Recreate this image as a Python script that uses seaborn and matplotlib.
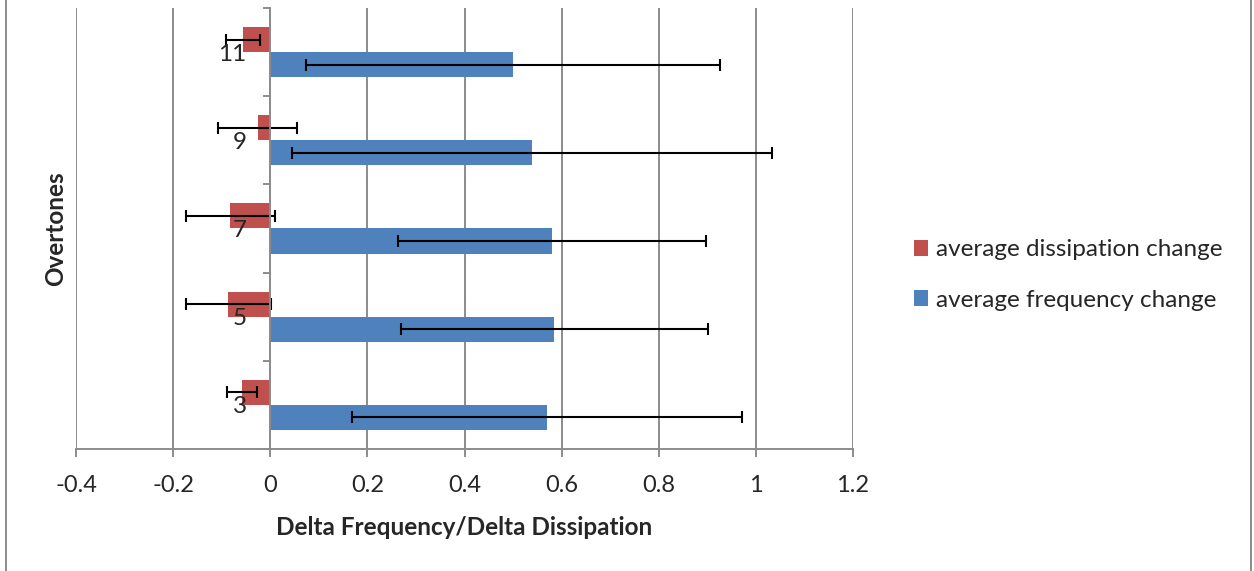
import matplotlib
matplotlib.use("Agg")
import matplotlib.pyplot as plt
from matplotlib.lines import Line2D
from matplotlib.ticker import FixedLocator
import seaborn as sns
import pandas as pd
import numpy as np

# ---- data ----
overtones = ["11", "9", "7", "5", "3"]
freq_change = [0.500, 0.539, 0.580, 0.585, 0.570]
freq_err = [0.427, 0.495, 0.317, 0.316, 0.402]
diss_change = [-0.057, -0.026, -0.082, -0.086, -0.058]
diss_err = [0.035, 0.081, 0.092, 0.088, 0.031]
series_names = ["average dissipation change", "average frequency change"]
x_ticks = [-0.4, -0.2, 0, 0.2, 0.4, 0.6, 0.8, 1, 1.2]
x_tick_labels = ["-0.4", "-0.2", "0", "0.2", "0.4", "0.6", "0.8", "1", "1.2"]

RED = "#C0504D"
BLUE = "#4F81BD"
GRID = "#8C8C8C"

df = pd.DataFrame({
    "overtone": overtones * 2,
    "value": diss_change + freq_change,
    "series": [series_names[0]] * len(overtones) + [series_names[1]] * len(overtones),
})
errs = {series_names[0]: diss_err, series_names[1]: freq_err}

sns.set_theme(style="white")
plt.rcParams["font.family"] = ["Lato", "DejaVu Sans"]

fig = plt.figure(figsize=(12.54, 5.71), dpi=100)
ax = fig.add_axes([76 / 1254, 1 - 449 / 571, (853 - 76) / 1254, (449 - 8) / 571])

sns.barplot(data=df, y="overtone", x="value", hue="series", order=overtones,
            hue_order=series_names, palette=[RED, BLUE], orient="h",
            width=0.568, gap=0, linewidth=0, saturation=1, errorbar=None, ax=ax,
            zorder=3)

# error bars positioned from the drawn bars
for container, name in zip(ax.containers, series_names):
    ys, xs = [], []
    for bar in container:
        ys.append(bar.get_y() + bar.get_height() / 2)
        xs.append(bar.get_x() + bar.get_width())
    ax.errorbar(xs, ys, xerr=errs[name], fmt="none", ecolor="black",
                elinewidth=1.5, capsize=4.5, capthick=1.5, zorder=4)

ax.set_xlim(-0.4, 1.2)
ax.set_ylim(len(overtones) - 0.5, -0.5)
ax.set_xticks(x_ticks)
ax.set_xticklabels(x_tick_labels)

# grid
ax.grid(False)
for xv in x_ticks:
    ax.axvline(xv, color=GRID, lw=1.4, zorder=1)

# spines
for s in ["top", "right"]:
    ax.spines[s].set_visible(False)
ax.spines["left"].set_position(("data", 0))
ax.spines["left"].set_color(GRID)
ax.spines["left"].set_linewidth(1.4)
ax.spines["left"].set_zorder(5)
ax.spines["bottom"].set_color(GRID)
ax.spines["bottom"].set_linewidth(1.4)

ax.tick_params(axis="x", which="major", direction="out", length=6, width=1.4,
               color=GRID, labelsize=17, pad=13, bottom=True)
ax.tick_params(axis="y", which="major", length=0, labelsize=17.5, pad=17, left=True)
ax.yaxis.set_minor_locator(FixedLocator(np.arange(-0.5, len(overtones), 1.0)))
ax.tick_params(axis="y", which="minor", direction="out", length=5, width=1.4,
               color=GRID, left=True)
ax.yaxis.set_zorder(6)

ax.set_xlabel("Delta Frequency/Delta Dissipation", fontsize=17.5, fontweight="bold", labelpad=14)
ax.set_ylabel("Overtones", fontsize=17.5, fontweight="bold")
ax.yaxis.set_label_coords(-0.011, 0.5)

leg = ax.legend(loc="center left", bbox_to_anchor=(892 / 1254, 1 - 275 / 571),
                bbox_transform=fig.transFigure, frameon=False, fontsize=17.5,
                handlelength=0.6, handleheight=0.6, handletextpad=0.3,
                labelspacing=1.2)

# outer chart border (left and right edges visible)
fig.add_artist(Line2D([6 / 1254, 6 / 1254], [0, 1], color=GRID, lw=1.4))
fig.add_artist(Line2D([1251 / 1254, 1251 / 1254], [0, 1], color=GRID, lw=1.4))

fig.savefig("out.png", dpi=100)
